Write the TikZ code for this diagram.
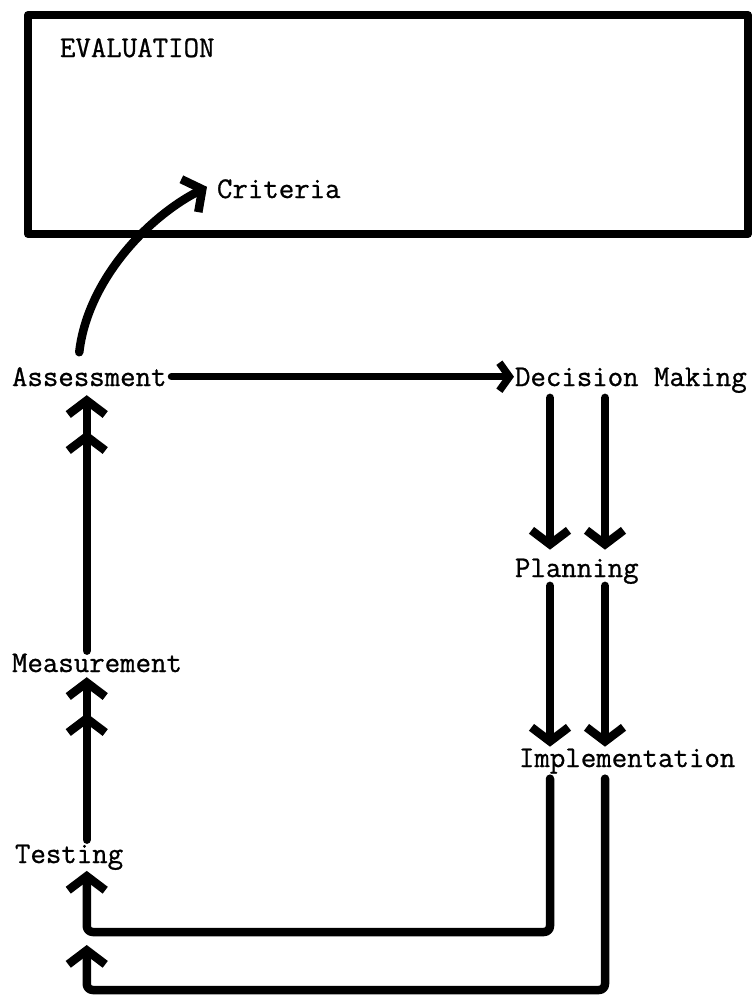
\documentclass[tikz,border=0pt]{standalone}
\usepackage{fontspec}
\newfontfamily\typer{Latin Modern Mono}[FakeBold=0.9]
\usetikzlibrary{arrows.meta,calc,decorations.markings}
\begin{document}
\begin{tikzpicture}[x=1pt,y=1pt,
  lbl/.style={font=\fontsize{30}{35}\selectfont\typer, inner sep=0pt, outer sep=0pt, anchor=base west},
  flow/.style={line width=8.5pt, line cap=round, line join=round, -{Straight Barb[length=14pt,width=37pt]}},
  hflow/.style={line width=7.5pt, line cap=round, -{Straight Barb[length=10pt,width=28pt]}},
  twohead/.style={postaction={decorate},
    decoration={markings, mark=at position #1 with {\arrow{Straight Barb[length=14pt,width=37pt]}}}},
  frame/.style={draw, line width=8pt, line join=round, minimum width=720pt, minimum height=219pt, inner sep=0pt}
]
\useasboundingbox (0,0) rectangle (755,-998);

% the evaluation frame
\node[frame] (evalbox) at (388,-124.5) {};

% labels
\node[lbl] (eval)   at (60,-57)   {EVALUATION};
\node[lbl] (crit)   at (217,-198) {Criteria};
\node[lbl] (assess) at (12,-386)  {Assessment};
\node[lbl] (dm)     at (515,-386) {Decision Making};
\node[lbl] (plan)   at (515,-577) {Planning};
\node[lbl] (meas)   at (12,-672)  {Measurement};
\node[lbl] (impl)   at (519,-767) {Implementation};
\node[lbl] (test)   at (15,-863)  {Testing};

% columns and return levels
\coordinate (colL) at ($(assess.south)+(-2.5,0)$);
\coordinate (colA) at ($(dm.base west)+(35,0)$);
\coordinate (colB) at ($(dm.base west)+(90,0)$);
\coordinate (loopA) at (0,-932);
\coordinate (loopB) at (0,-990);
\coordinate (tipB)  at (0,-945);

% assessment feeds the criteria
\draw[flow] ($(assess.north)+(-10,15)$) .. controls +(8,70) and +(-62,-32) .. ($(crit.west)+(-10,2)$);

% assessment to decision making
\draw[hflow] ($(assess.east)+(5,0)$) -- ($(dm.west |- assess.east)+(-1,0)$);

% left column, upwards
\draw[flow, twohead=-36pt] ($(colL |- meas.north)+(0,3)$) -- ($(colL)+(0,-9)$);
\draw[flow, twohead=-36pt] ($(colL |- test.north)+(0,5)$) -- ($(colL |- meas.south)+(0,-5)$);

% right columns, downwards
\draw[flow] ($(colA |- dm.south)+(0,-5)$) -- ($(colA |- plan.north)+(0,9)$);
\draw[flow] ($(colB |- dm.south)+(0,-5)$) -- ($(colB |- plan.north)+(0,9)$);
\draw[flow] ($(colA |- plan.south)+(0,-2)$) -- ($(colA |- impl.north)+(0,2)$);
\draw[flow] ($(colB |- plan.south)+(0,-2)$) -- ($(colB |- impl.north)+(0,2)$);

% return loops from implementation
\draw[flow, rounded corners=6pt] ($(colA |- impl.south)+(0,-5)$) -- (colA |- loopA)
  -- (colL |- loopA) -- ($(colL |- test.south)+(0,-1)$);
\draw[flow, rounded corners=6pt] ($(colB |- impl.south)+(0,-5)$) -- (colB |- loopB)
  -- (colL |- loopB) -- (colL |- tipB);
\end{tikzpicture}
\end{document}
